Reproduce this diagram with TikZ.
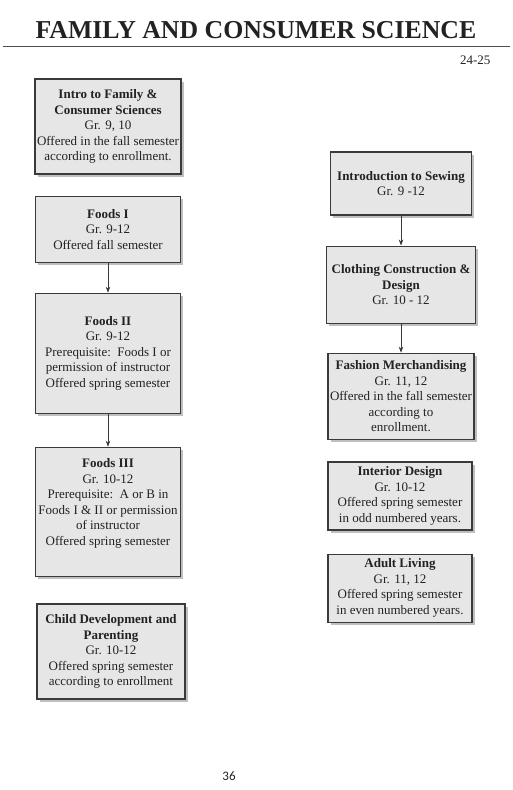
\documentclass[tikz,border=0pt]{standalone}
\usepackage{fontspec}
\setmainfont{Liberation Serif}
\newfontfamily\pagefont{Carlito}
\usepackage{tikz}
\usetikzlibrary{positioning,shadows,arrows.meta}
\definecolor{boxfill}{HTML}{E6E6E6}
\definecolor{boxline}{HTML}{3A3A3A}
\definecolor{inkgray}{HTML}{222222}

\begin{document}
\begin{tikzpicture}[x=1pt,y=1pt,node distance=30pt,
    course/.style={draw=boxline,fill=boxfill,line width=1.1pt,align=center,
      inner sep=1pt,text=inkgray,font=\fontsize{13}{15.5}\selectfont,
      drop shadow={opacity=0.5,shadow xshift=2.5pt,shadow yshift=-3pt}},
    link/.style={->,line width=0.8pt,draw=boxline},
    >={Stealth[length=6pt,width=4.5pt]}]
  \useasboundingbox (0,0) rectangle (513,-790);
  % heading
  \node[anchor=base,text=inkgray,font=\fontsize{25.8}{30}\selectfont\bfseries] (title) at (256,-38) {FAMILY AND CONSUMER SCIENCE};
  \draw[line width=1pt,draw=inkgray!80] (3,-46) -- (510,-46);
  \node[anchor=base east,text=inkgray,font=\fontsize{13}{15}\selectfont] (year) at (494,-64) {24-25};
  % left column
  \node[course,minimum width=146pt,minimum height=95pt] (intro) at (108,-126.5)
    {\textbf{Intro to Family \&}\\ \textbf{Consumer Sciences}\\ Gr. 9, 10\\ Offered in the fall semester\\ according to enrollment.};
  \node[course,minimum width=145pt,minimum height=66pt] (foodsI) [below=21pt of intro]
    {\textbf{Foods I}\\ Gr. 9-12\\ Offered fall semester};
  \node[course,minimum width=145pt,minimum height=120pt] (foodsII) [below=30pt of foodsI]
    {\textbf{Foods II}\\ Gr. 9-12\\ Prerequisite:\ \ Foods I or\\ permission of instructor\\ Offered spring semester};
  \node[course,minimum width=145pt,minimum height=129pt] (foodsIII) [below=33pt of foodsII]
    {\textbf{Foods III}\\ Gr. 10-12\\ Prerequisite:\ \ A or B in\\ Foods I \& II or permission\\ of instructor\\ Offered spring semester\\[4pt]};
  \node[course,minimum width=148pt,minimum height=95pt] (child) at (111,-651.5)
    {\textbf{Child Development and}\\ \textbf{Parenting}\\ Gr. 10-12\\ Offered spring semester\\ according to enrollment};
  % right column
  \node[course,minimum width=141pt,minimum height=63pt] (sewing) at (401,-183.5)
    {\textbf{Introduction to Sewing}\\ Gr. 9 -12};
  \node[course,minimum width=149pt,minimum height=77pt] (clothing) [below=30pt of sewing]
    {\textbf{Clothing Construction \&}\\ \textbf{Design}\\ Gr. 10 - 12};
  \node[course,minimum width=146pt,minimum height=86pt] (fashion) [below=29pt of clothing]
    {\textbf{Fashion Merchandising}\\ Gr. 11, 12\\ Offered in the fall semester\\ according to\\ enrollment.};
  \node[course,minimum width=144pt,minimum height=68pt] (interior) at (400,-496)
    {\textbf{Interior Design}\\ Gr. 10-12\\ Offered spring semester\\ in odd numbered years.};
  \node[course,minimum width=144pt,minimum height=68pt] (adult) [below=23pt of interior]
    {\textbf{Adult Living}\\ Gr. 11, 12\\ Offered spring semester\\ in even numbered years.};
  \path[link]
    (foodsI) edge (foodsII)
    (foodsII) edge (foodsIII)
    (sewing) edge (clothing)
    (clothing) edge (fashion);
  % page number
  \node[anchor=base,text=inkgray,font=\pagefont\fontsize{13}{15}\selectfont] (page) at (229,-780) {36};
\end{tikzpicture}
\end{document}
